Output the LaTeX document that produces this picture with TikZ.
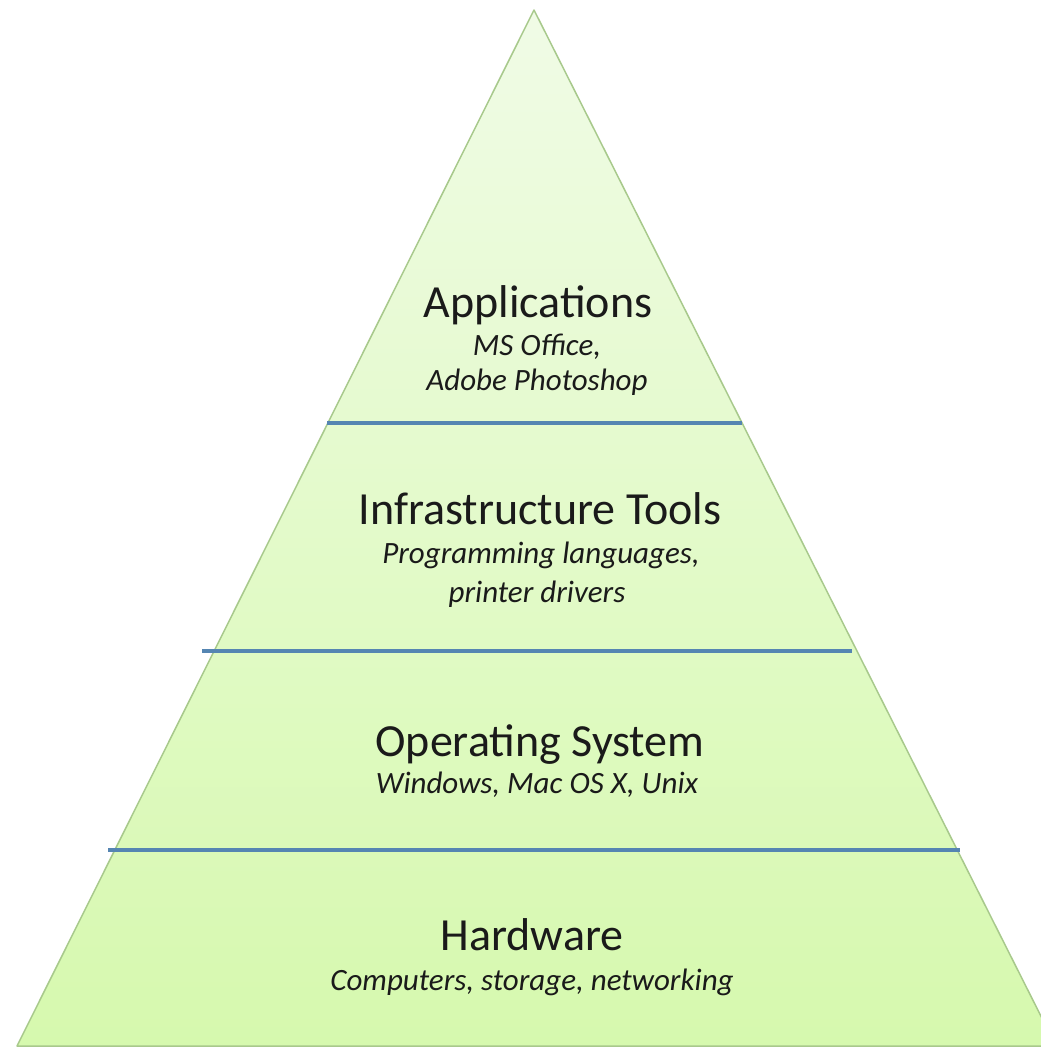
\documentclass[tikz,border=0pt]{standalone}
\usepackage{fontspec}
\setmainfont{Carlito}
\definecolor{pyrtop}{HTML}{F0FBE6}
\definecolor{pyrbot}{HTML}{D6F9AE}
\definecolor{pyredge}{HTML}{A8C98C}
\definecolor{sepblue}{HTML}{5585B2}
\definecolor{txt}{HTML}{1A1A1A}
\tikzset{
  title/.style={anchor=base, inner sep=0pt, text=txt, font=\fontsize{46}{52}\selectfont},
  sub/.style={anchor=base, inner sep=0pt, text=txt, font=\fontsize{31}{37}\selectfont\itshape},
  sep/.style={draw=sepblue, line width=4pt},
}
\begin{document}
\begin{tikzpicture}[x=1pt,y=-1pt]
\useasboundingbox (0,0) rectangle (1041,1047);
\clip (0,0) rectangle (1041,1047);
\coordinate (apex) at (534,10);
\coordinate (bl) at (17,1046);
\coordinate (br) at (1056,1046);
\shade[top color=pyrtop, bottom color=pyrbot] (apex) -- (bl) -- (br) -- cycle;
\draw[pyredge, line width=1.5pt, line join=round] (apex) -- (bl) -- (br) -- cycle;
% separators
\coordinate (s1l) at (327,423); \coordinate (s1r) at (742,423);
\coordinate (s2l) at (202,651); \coordinate (s2r) at (852,651);
\coordinate (s3l) at (108,850); \coordinate (s3r) at (960,850);
\draw[sep] (s1l) -- (s1r);
\draw[sep] (s2l) -- (s2r);
\draw[sep] (s3l) -- (s3r);
% texts
\node[title] (app) at (538,317) {Applications};
\node[sub] (appa) at (537,355) {MS Office,};
\node[sub] (appb) at (537,390) {Adobe Photoshop};
\node[title] (inf) at (540,524) {Infrastructure Tools};
\node[sub] (infa) at (541,563) {Programming languages,};
\node[sub] (infb) at (537,602) {printer drivers};
\node[title] (os) at (540,756) {Operating System};
\node[sub] (osa) at (537,793) {Windows, Mac OS X, Unix};
\node[title] (hw) at (532,950) {Hardware};
\node[sub] (hwa) at (532,990) {Computers, storage, networking};
\end{tikzpicture}
\end{document}
